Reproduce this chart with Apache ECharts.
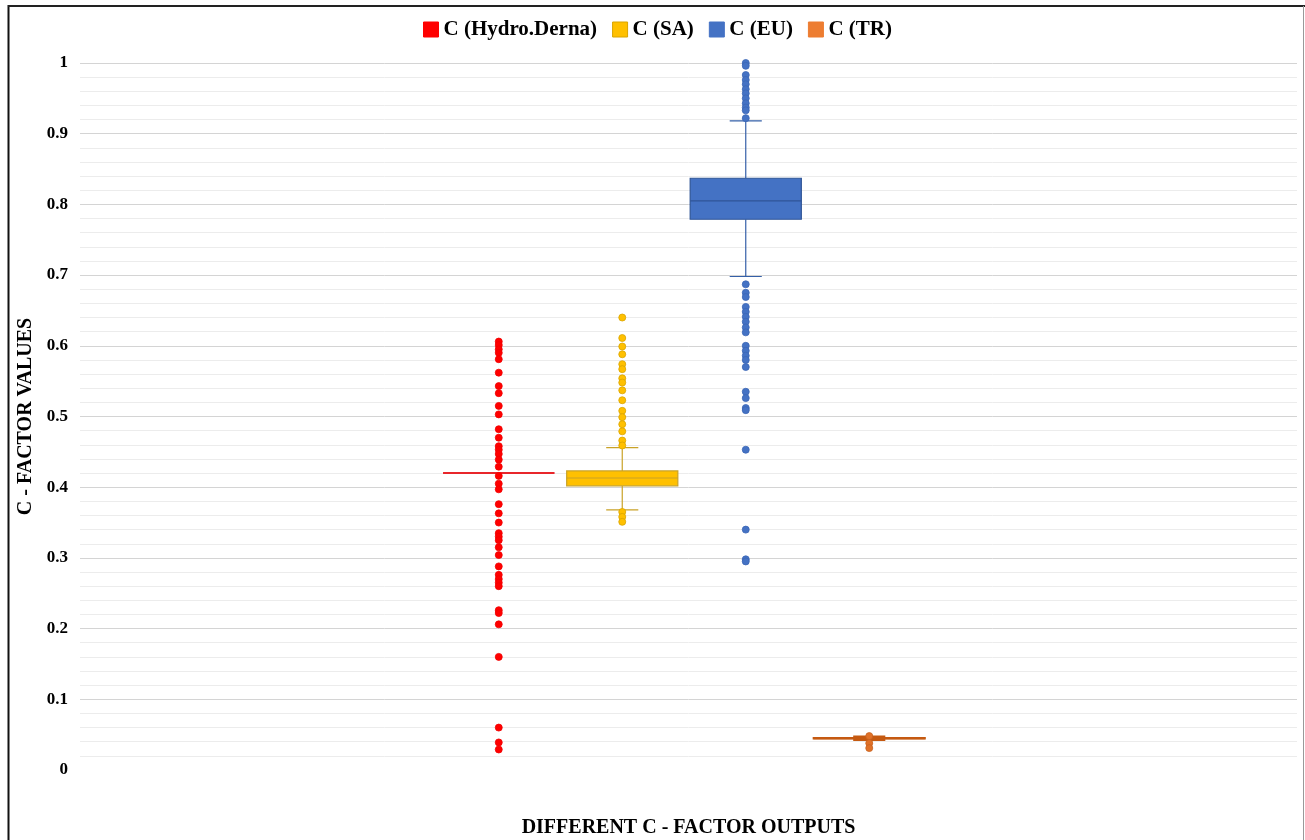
<!DOCTYPE html>
<html>
<head>
<meta charset="utf-8">
<script src="https://cdn.jsdelivr.net/npm/echarts@6/dist/echarts.min.js"></script>
<style>
html,body{margin:0;padding:0;background:#fff;}
#chart{width:1305px;height:840px;}
</style>
</head>
<body>
<div id="chart"></div>
<script>
// ---- data ----
const categories = ['C (Hydro.Derna)', 'C (SA)', 'C (EU)', 'C (TR)'];
const yTicks = [0, 0.1, 0.2, 0.3, 0.4, 0.5, 0.6, 0.7, 0.8, 0.9, 1];
// [lower whisker, Q1, median, Q3, upper whisker]
const boxHydro = [0.42, 0.42, 0.42, 0.42, 0.42];
const boxSA = [0.368, 0.402, 0.413, 0.423, 0.456];
const boxEU = [0.698, 0.779, 0.805, 0.837, 0.918];
const boxTR = [0.0425, 0.0445, 0.0448, 0.0452, 0.0475];
const outHydro = [0.606, 0.601, 0.595, 0.590, 0.581, 0.562, 0.543, 0.533, 0.515, 0.503,
  0.482, 0.470, 0.458, 0.453, 0.447, 0.439, 0.429, 0.416, 0.405, 0.397, 0.376, 0.363,
  0.350, 0.335, 0.330, 0.325, 0.315, 0.304, 0.288, 0.276, 0.270, 0.265, 0.260, 0.226,
  0.222, 0.206, 0.160, 0.060, 0.039, 0.029];
const outSA = [0.640, 0.611, 0.599, 0.588, 0.574, 0.567, 0.554, 0.548, 0.537, 0.523,
  0.508, 0.499, 0.489, 0.479, 0.466, 0.459, 0.365, 0.358, 0.351];
const outEU = [1.0, 0.996, 0.983, 0.976, 0.970, 0.963, 0.957, 0.950, 0.943, 0.937, 0.933,
  0.922, 0.687, 0.675, 0.669, 0.655, 0.648, 0.641, 0.634, 0.626, 0.619, 0.600, 0.593,
  0.586, 0.580, 0.570, 0.535, 0.526, 0.512, 0.509, 0.453, 0.340, 0.298, 0.295];
const outTR = [0.048, 0.038, 0.031];

const boxes = [boxHydro, boxSA, boxEU, boxTR];
const outliers = [outHydro, outSA, outEU, outTR];

// ---- styles ----
const styles = [
  {fill: '#FF0000', stroke: '#E8262B', whisker: '#E8262B', dot: '#FF0000', dotBorder: '#F00000', lw: 2},
  {fill: '#FFC000', stroke: '#C9A227', whisker: '#C9A227', dot: '#FFC000', dotBorder: '#D9A400', lw: 1.2},
  {fill: '#4472C4', stroke: '#2F5597', whisker: '#3560A8', dot: '#4472C4', dotBorder: '#3A66B5', lw: 1.2},
  {fill: '#ED7D31', stroke: '#C55A11', whisker: '#C55A11', dot: '#E07128', dotBorder: '#C8621F', lw: 2}
];
const FONT = '"Liberation Serif", "Times New Roman", serif';

function renderBox(params, api) {
  const st = styles[params.seriesIndex];
  const idx = api.value(0);
  const lo = api.coord([idx, api.value(1)]);
  const q1 = api.coord([idx, api.value(2)]);
  const md = api.coord([idx, api.value(3)]);
  const q3 = api.coord([idx, api.value(4)]);
  const hi = api.coord([idx, api.value(5)]);
  const band = api.size([1, 0])[0];
  const bw = band * 0.9, cw = band * 0.26;
  const x = md[0];
  const ls = {stroke: st.whisker, lineWidth: st.lw};
  const children = [
    {type: 'line', shape: {x1: x, y1: hi[1], x2: x, y2: q3[1]}, style: ls},
    {type: 'line', shape: {x1: x, y1: q1[1], x2: x, y2: lo[1]}, style: ls},
    {type: 'line', shape: {x1: x - cw / 2, y1: hi[1], x2: x + cw / 2, y2: hi[1]}, style: ls},
    {type: 'line', shape: {x1: x - cw / 2, y1: lo[1], x2: x + cw / 2, y2: lo[1]}, style: ls},
    {type: 'rect', shape: {x: x - bw / 2, y: q3[1], width: bw, height: q1[1] - q3[1]},
      style: {fill: st.fill, stroke: st.stroke, lineWidth: st.lw}},
    {type: 'line', shape: {x1: x - bw / 2, y1: md[1], x2: x + bw / 2, y2: md[1]},
      style: {stroke: st.stroke, lineWidth: st.lw}}
  ];
  return {type: 'group', children: children};
}

const series = [];
categories.forEach(function (name, i) {
  series.push({
    name: name,
    type: 'custom',
    xAxisIndex: 1, yAxisIndex: 1,
    renderItem: renderBox,
    itemStyle: {color: styles[i].fill},
    encode: {x: 0, y: [1, 2, 3, 4, 5]},
    data: [[i].concat(boxes[i])],
    z: 3
  });
});
categories.forEach(function (name, i) {
  series.push({
    name: name,
    type: 'scatter',
    xAxisIndex: 1, yAxisIndex: 1,
    symbolSize: 7,
    itemStyle: {color: styles[i].dot, borderColor: styles[i].dotBorder, borderWidth: 0.8, opacity: 1},
    data: outliers[i].map(function (v) { return [i, v]; }),
    z: 4
  });
});

const chart = echarts.init(document.getElementById('chart'));
chart.setOption({
  backgroundColor: '#fff',
  animation: false,
  legend: {
    top: 19, left: 423, padding: 0,
    icon: 'rect', itemWidth: 15, itemHeight: 15, itemGap: 15,
    textStyle: {fontFamily: FONT, fontWeight: 'bold', fontSize: 21, color: '#000'},
    data: categories.map(function (n, i) {
      return {name: n, itemStyle: {color: styles[i].fill, borderColor: i === 1 ? '#D9A400' : styles[i].fill, borderWidth: 1}};
    })
  },
  grid: [
    {left: 80, right: 8, top: 63, bottom: 70, outerBoundsMode: 'none', containLabel: false},
    {left: 437, width: 494, top: 63, bottom: 70, outerBoundsMode: 'none', containLabel: false}
  ],
  xAxis: [
    {
      type: 'category', gridIndex: 0, data: [''],
      name: 'DIFFERENT C - FACTOR OUTPUTS', nameLocation: 'middle', nameGap: 48,
      nameTextStyle: {fontFamily: FONT, fontWeight: 'bold', fontSize: 20, color: '#000'},
      axisLine: {show: false}, axisTick: {show: false}, axisLabel: {show: false}, splitLine: {show: false}
    },
    {
      type: 'category', gridIndex: 1, data: categories, show: false
    }
  ],
  yAxis: [
    {
      type: 'value', gridIndex: 0, min: yTicks[0], max: yTicks[yTicks.length - 1], interval: yTicks[1] - yTicks[0],
      name: 'C - FACTOR VALUES', nameLocation: 'middle', nameGap: 43,
      nameTextStyle: {fontFamily: FONT, fontWeight: 'bold', fontSize: 20, color: '#000'},
      axisLine: {show: false}, axisTick: {show: false},
      axisLabel: {fontFamily: FONT, fontWeight: 'bold', fontSize: 17, color: '#000', margin: 12},
      splitLine: {show: true, showMinLine: false, lineStyle: {color: '#d4d4d4', width: 1}},
      minorTick: {show: false, splitNumber: 5},
      minorSplitLine: {show: true, lineStyle: {color: '#ececec', width: 1}}
    },
    {
      type: 'value', gridIndex: 1, min: yTicks[0], max: yTicks[yTicks.length - 1], show: false
    }
  ],
  graphic: [
    {type: 'line', shape: {x1: 8.5, y1: 5, x2: 8.5, y2: 840}, style: {stroke: '#111', lineWidth: 2}, silent: true},
    {type: 'line', shape: {x1: 8, y1: 6, x2: 1305, y2: 6}, style: {stroke: '#222', lineWidth: 2}, silent: true},
    {type: 'line', shape: {x1: 1303.5, y1: 6, x2: 1303.5, y2: 840}, style: {stroke: '#999', lineWidth: 1}, silent: true}
  ],
  series: series
});
</script>
</body>
</html>
